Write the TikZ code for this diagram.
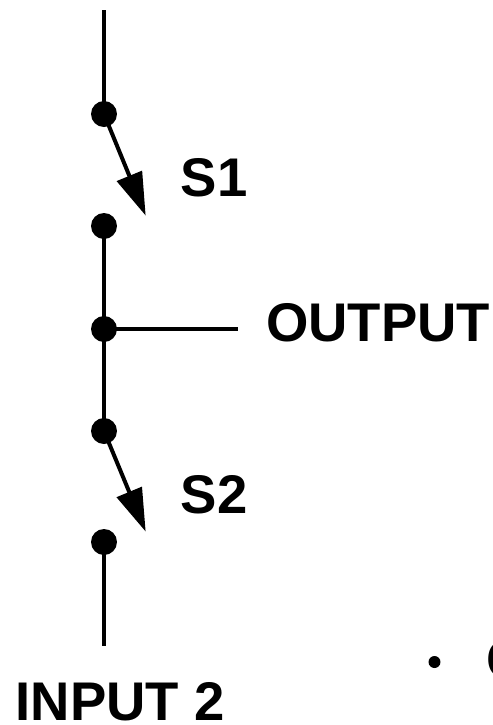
\documentclass[tikz,border=0pt]{standalone}
\usepackage{fontspec}
\setmainfont{Liberation Sans}
\usetikzlibrary{arrows.meta, positioning}

\begin{document}
\begin{tikzpicture}[x=0.02cm, y=-0.02cm]
	\tikzstyle{dotc}=[circle, fill=black, inner sep=0pt, minimum size=0.52cm]
	\tikzstyle{wire}=[line width=0.08cm]
	\tikzstyle{swarrow}=[line width=0.08cm, -{Triangle[length=0.86cm, width=0.53cm]}, shorten >=-1pt]
	\tikzstyle{lab}=[inner sep=0pt, font=\fontsize{31}{36}\selectfont\bfseries]
	\useasboundingbox (0,0) rectangle (493,725);
	\coordinate (top) at (104,10);
	\coordinate (bot) at (104,646);
	\coordinate (tip1) at (145,214);
	\coordinate (tip2) at (145,530);
	\coordinate (outend) at (238,329);
	\node (d1) at (104,114) [dotc]{};
	\node (d2) at (104,226) [dotc]{};
	\node (d3) at (104,329) [dotc]{};
	\node (d4) at (104,431) [dotc]{};
	\node (d5) at (104,542) [dotc]{};
	\node (bul) at (434.5,662) [circle, fill=black, inner sep=0pt, minimum size=0.24cm]{};
	\draw[wire] (top) -- (d1.center);
	\draw[wire] (d2.center) -- (d4.center);
	\draw[wire] (d5.center) -- (bot);
	\draw[wire] (d3.center) -- (outend);
	\draw[swarrow] (d1.center) -- (tip1);
	\draw[swarrow] (d4.center) -- (tip2);
	\node (s1) at (214,178) [lab]{S1};
	\node (s2) at (214,495) [lab]{S2};
	\node (out) at (378,323) [lab]{OUTPUT};
	\node (inp) at (120,701.5) [lab]{INPUT 2};
	\node (cut) at (486,660) [anchor=west, lab]{C};
\end{tikzpicture}
\end{document}
